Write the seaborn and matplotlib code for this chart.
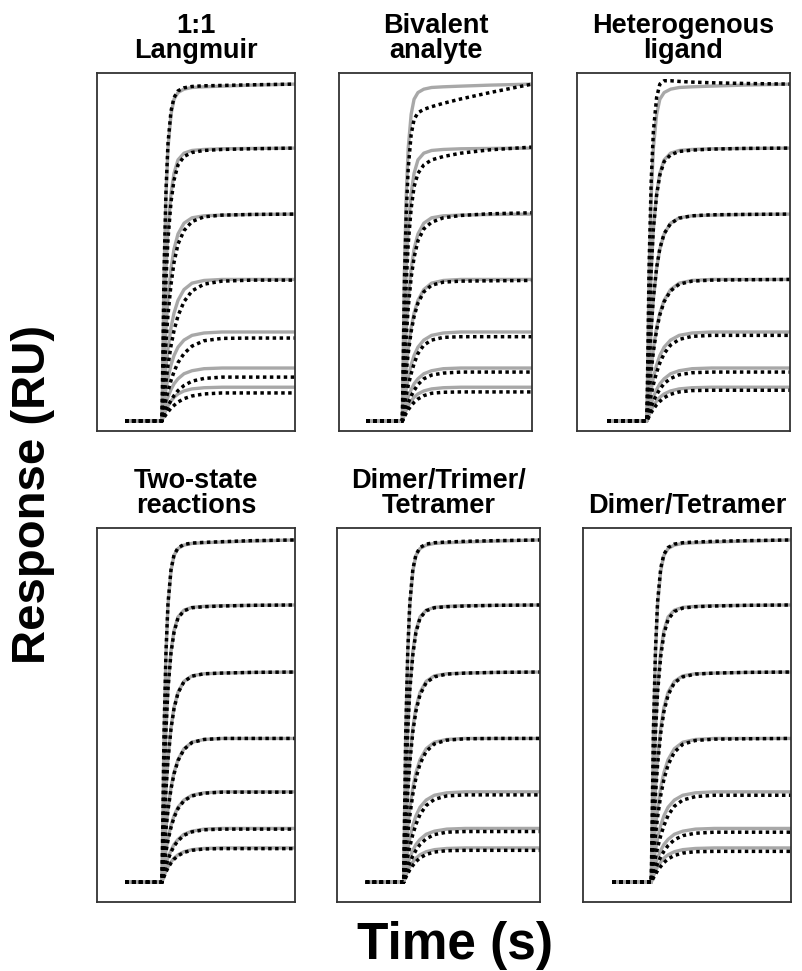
import matplotlib
matplotlib.use("Agg")
import matplotlib.pyplot as plt
import pandas as pd
import seaborn as sns

sns.set_style("white")
plt.rcParams["font.family"] = ["Liberation Sans", "DejaVu Sans"]
plt.rcParams["text.color"] = "black"

# Association phase, injection starts at t = 0 s
time_s = [-37, 0, 2, 4, 6, 9, 12, 16, 22, 30, 42, 60, 90, 133]

# Measured sensorgrams (RU), highest analyte concentration first
measured = [
    [0, 0, 43, 67, 81, 91, 95.5, 97.5, 98.5, 99, 99.2, 99.4, 99.7, 100],
    [0, 0, 27, 45, 57, 67.5, 73.5, 77.5, 79.5, 80.3, 80.6, 80.8, 80.9, 81],
    [0, 0, 15.9, 27.5, 36.2, 45.2, 51, 55.5, 58.7, 60.3, 60.9, 61.1, 61.3, 61.4],
    [0, 0, 8.9, 16, 21.5, 27.7, 32, 35.8, 39, 40.9, 41.7, 42, 42, 42],
    [0, 0, 5.2, 9.4, 12.8, 16.6, 19.4, 21.9, 24, 25.4, 26.1, 26.4, 26.4, 26.4],
    [0, 0, 2.8, 5.2, 7.1, 9.3, 11, 12.5, 14, 14.9, 15.5, 15.7, 15.7, 15.7],
    [0, 0, 1.8, 3.3, 4.5, 5.9, 7, 8, 8.9, 9.5, 9.85, 10, 10, 10],
]

# Fitted curves for each binding model (RU)
fit_langmuir = [
    [0, 0, 44, 68.5, 82.5, 92, 96, 98, 98.9, 99.3, 99.5, 99.6, 99.8, 100],
    [0, 0, 25, 42, 54, 65, 71.5, 76, 78.5, 79.7, 80.3, 80.6, 80.8, 81],
    [0, 0, 13, 23.5, 31.5, 40.5, 47, 52.5, 56.5, 59.2, 60.6, 61.1, 61.3, 61.4],
    [0, 0, 6.3, 11.8, 16.5, 22.3, 26.8, 31.2, 35.4, 38.6, 40.6, 41.5, 41.8, 41.8],
    [0, 0, 3.4, 6.3, 8.8, 12, 14.6, 17.3, 20, 22.2, 23.8, 24.5, 24.6, 24.6],
    [0, 0, 1.6, 3.1, 4.4, 6.1, 7.5, 9, 10.5, 11.8, 12.6, 13, 13, 13],
    [0, 0, 1, 1.9, 2.7, 3.8, 4.6, 5.6, 6.6, 7.4, 8, 8.3, 8.3, 8.3],
]
fit_bivalent = [
    [0, 0, 40, 62, 75, 85, 89.5, 91.5, 92.5, 93.3, 94.3, 95.6, 97.5, 100],
    [0, 0, 24, 41, 52.5, 63, 69.5, 73.5, 76, 77.5, 78.5, 79.5, 80.5, 81.3],
    [0, 0, 14, 25, 33.5, 42.5, 48.5, 53.5, 57, 59, 60.3, 61, 61.5, 61.8],
    [0, 0, 8, 14.6, 20, 26.5, 31, 35, 38.3, 40.3, 41.2, 41.5, 41.6, 41.7],
    [0, 0, 4, 7.5, 10.5, 14, 17, 20, 22.5, 24, 24.8, 25, 25, 25],
    [0, 0, 2, 3.8, 5.4, 7.4, 9, 10.8, 12.5, 13.6, 14.2, 14.5, 14.5, 14.5],
    [0, 0, 1.2, 2.3, 3.3, 4.5, 5.5, 6.5, 7.5, 8.2, 8.5, 8.6, 8.6, 8.6],
]
fit_heterogenous = [
    [0, 0, 46, 71.5, 86, 96, 100, 101, 101, 100.8, 100.6, 100.4, 100.2, 100],
    [0, 0, 27, 45, 57, 67, 73, 77, 79, 80, 80.4, 80.7, 80.9, 81],
    [0, 0, 15.5, 27.5, 36.5, 45.5, 51.2, 55.6, 58.6, 60.2, 60.9, 61.2, 61.3, 61.4],
    [0, 0, 8, 15, 20.5, 27, 31.5, 35.4, 38.6, 40.6, 41.5, 41.8, 41.9, 42],
    [0, 0, 4.2, 7.8, 10.8, 14.4, 17.2, 20, 22.5, 24.2, 25.1, 25.4, 25.4, 25.4],
    [0, 0, 2.2, 4.1, 5.8, 7.8, 9.4, 11.1, 12.6, 13.7, 14.3, 14.5, 14.5, 14.5],
    [0, 0, 1.3, 2.5, 3.5, 4.8, 5.8, 6.9, 7.9, 8.6, 9, 9.1, 9.1, 9.1],
]
fit_two_state = [
    [0, 0, 43.5, 67.5, 81.5, 91.3, 95.6, 97.7, 98.7, 99.1, 99.3, 99.5, 99.8, 100],
    [0, 0, 26.5, 44.5, 56.5, 67, 73, 77.2, 79.3, 80.2, 80.5, 80.7, 80.9, 81],
    [0, 0, 15.5, 27, 35.8, 44.8, 50.7, 55.3, 58.6, 60.2, 60.9, 61.1, 61.3, 61.4],
    [0, 0, 8.5, 15.5, 21, 27.2, 31.6, 35.5, 38.8, 40.8, 41.7, 42, 42, 42],
    [0, 0, 4.8, 8.9, 12.2, 16, 18.9, 21.5, 23.8, 25.2, 26, 26.3, 26.3, 26.3],
    [0, 0, 2.5, 4.7, 6.6, 8.8, 10.5, 12.1, 13.7, 14.7, 15.3, 15.5, 15.5, 15.5],
    [0, 0, 1.6, 3, 4.2, 5.6, 6.7, 7.7, 8.7, 9.3, 9.7, 9.8, 9.8, 9.8],
]
fit_dimer_trimer_tetramer = [
    [0, 0, 43, 67.5, 81.5, 91.5, 95.7, 97.8, 98.8, 99.2, 99.4, 99.6, 99.8, 100],
    [0, 0, 26, 44, 56, 66.5, 73, 77.2, 79.3, 80.2, 80.5, 80.7, 80.9, 81],
    [0, 0, 14.5, 26, 34.8, 44, 50, 54.8, 58.3, 60, 60.8, 61.1, 61.3, 61.4],
    [0, 0, 7.5, 14, 19.4, 25.8, 30.4, 34.6, 38.2, 40.4, 41.5, 41.9, 42, 42],
    [0, 0, 4, 7.5, 10.4, 14, 16.9, 19.8, 22.4, 24.2, 25.2, 25.5, 25.5, 25.5],
    [0, 0, 2.1, 4, 5.7, 7.7, 9.3, 11, 12.7, 13.9, 14.6, 14.8, 14.8, 14.8],
    [0, 0, 1.3, 2.5, 3.6, 4.9, 6, 7.1, 8.1, 8.8, 9.2, 9.3, 9.3, 9.3],
]
fit_dimer_tetramer = [
    [0, 0, 44, 68, 82, 91.8, 95.8, 97.8, 98.8, 99.2, 99.4, 99.6, 99.8, 100],
    [0, 0, 25.5, 43.5, 55.5, 66, 72.5, 76.8, 79.1, 80.1, 80.5, 80.7, 80.9, 81],
    [0, 0, 14, 25.5, 34.3, 43.6, 49.8, 54.7, 58.3, 60, 60.8, 61.1, 61.3, 61.4],
    [0, 0, 7.2, 13.6, 19, 25.4, 30, 34.3, 38, 40.3, 41.4, 41.8, 41.9, 42],
    [0, 0, 3.8, 7.2, 10.1, 13.6, 16.5, 19.5, 22.2, 24, 25, 25.4, 25.4, 25.4],
    [0, 0, 2, 3.8, 5.4, 7.4, 9, 10.7, 12.4, 13.6, 14.3, 14.6, 14.6, 14.6],
    [0, 0, 1.2, 2.3, 3.4, 4.6, 5.7, 6.8, 7.8, 8.5, 8.9, 9, 9, 9],
]

model_titles = [
    "1:1\nLangmuir",
    "Bivalent\nanalyte",
    "Heterogenous\nligand",
    "Two-state\nreactions",
    "Dimer/Trimer/\nTetramer",
    "Dimer/Tetramer",
]
model_fits = [
    fit_langmuir, fit_bivalent, fit_heterogenous,
    fit_two_state, fit_dimer_trimer_tetramer, fit_dimer_tetramer,
]


def long_table(curves):
    rows = []
    for k, curve in enumerate(curves):
        for t, r in zip(time_s, curve):
            rows.append({"time": t, "response": r, "curve": k})
    return pd.DataFrame(rows)


W, H = 802, 971
fig = plt.figure(figsize=(W / 100, H / 100), dpi=100)

# panel boxes in pixels: left, right, top, bottom
boxes = [
    (97, 295, 73, 431), (339, 532, 73, 431), (577, 790, 73, 431),
    (97, 295, 528, 902), (337, 540, 528, 902), (583, 791, 528, 902),
]
ylims = [(-3.0, 103.3)] * 3 + [(-5.8, 103.5)] * 3

measured_df = long_table(measured)

for i, (l, r, t, b) in enumerate(boxes):
    ax = fig.add_axes([l / W, 1 - b / H, (r - l) / W, (b - t) / H])
    sns.lineplot(data=measured_df, x="time", y="response", units="curve",
                 estimator=None, color="#a8a8a8", lw=2.4, ax=ax,
                 solid_capstyle="butt")
    sns.lineplot(data=long_table(model_fits[i]), x="time", y="response",
                 units="curve", estimator=None, color="black", lw=2.5,
                 linestyle=(0, (1.0, 1.0)), dash_capstyle="butt", ax=ax)
    ax.set_xlim(-65, 133)
    ax.set_ylim(*ylims[i])
    ax.set_xticks([])
    ax.set_yticks([])
    ax.set_xlabel("")
    ax.set_ylabel("")
    for s in ax.spines.values():
        s.set_visible(True)
        s.set_color("#333333")
        s.set_linewidth(1.3)
    ax.set_title(model_titles[i], fontsize=19.5, fontweight="bold",
                 pad=11, linespacing=0.95, color="black")

fig.text(33 / W, 1 - 494 / H, "Response (RU)", rotation=90, fontsize=34,
         fontweight="bold", ha="center", va="center", color="black")
fig.text(455 / W, 1 - 945 / H, "Time (s)", fontsize=37,
         fontweight="bold", ha="center", va="center", color="black")

fig.savefig("out.png", dpi=100, facecolor="white")
